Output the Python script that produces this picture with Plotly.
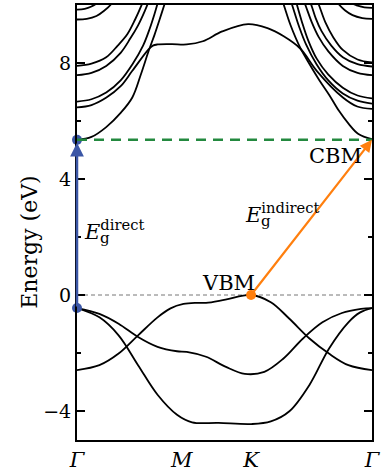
import plotly.graph_objects as go

# ---------------- data ----------------
k_ticks = [0.0, 0.355, 0.59, 1.0]
k_labels = ["Γ", "M", "K", "Γ"]

E_fermi = 0.0
E_vbm_gamma = -0.45
E_cbm = 5.35
E_vbm = 0.0
k_vbm = 0.59
k_cbm = 1.0
k_gamma = 0.0

# valence bands
vb1_k = [0, .076, .141, .207, .273, .339, .39, .48, .591, .657, .72, .788, .854, .92, .96, 1]
vb1_E = [-0.45, -0.77, -1.39, -2.42, -3.44, -4.13, -4.39, -4.41, -4.45, -4.36, -4.01, -3.1, -1.85, -0.94, -0.6, -0.45]
vb2_k = [0, .076, .141, .207, .273, .339, .372, .4375, .503, .569, .635, .70, .766, .832, .898, .963, 1]
vb2_E = [-0.45, -0.65, -0.99, -1.45, -1.79, -1.94, -1.96, -2.13, -2.47, -2.72, -2.65, -2.19, -1.5, -0.94, -0.62, -0.48, -0.45]
vb3_k = [0, .076, .141, .207, .273, .317, .361, .405, .4375, .503, .591, .657, .72, .788, .854, .92, 1]
vb3_E = [-2.59, -2.42, -2.02, -1.39, -0.77, -0.46, -0.31, -0.27, -0.27, -0.16, 0.0, -0.25, -0.82, -1.5, -2.02, -2.42, -2.59]

# conduction bands, left Γ side
cba_L_k = [0, .049, .099, .148, .1875, .217, .243, .263, .280, .299, .3125]
cba_L_E = [5.35, 5.45, 5.79, 6.28, 6.81, 7.62, 8.42, 8.98, 9.5, 10.1, 10.5]
cbc_L_k = [0, .049, .099, .148, .1875, .224, .247, .263, .28]
cbc_L_E = [6.67, 6.75, 6.98, 7.4, 7.95, 8.6, 9.2, 9.7, 10.3]
cbd_L_k = [0, .049, .099, .148, .181, .207, .230, .25]
cbd_L_E = [7.58, 7.66, 7.9, 8.35, 8.85, 9.3, 9.8, 10.3]
cbe_L_k = [0, .049, .099, .138, .171, .197, .217, .230]
cbe_L_E = [7.9, 7.98, 8.2, 8.6, 9.0, 9.5, 9.95, 10.3]
h1_L_k = [0, .033, .066, .092, .115, .132]
h1_L_E = [9.5, 9.52, 9.62, 9.8, 10.02, 10.3]
h2_L_k = [0, .026, .049, .066, .082]
h2_L_E = [9.84, 9.87, 9.95, 10.05, 10.2]

# band running through M and K
cbb_k = [0, .049, .0997, .148, .1875, .2424, .257, .273, .322, .372, .4266, .4924, .58, .6457, .7007, .7566, .8125, .9013, .95, 1]
cbb_E = [6.47, 6.55, 6.81, 7.2, 7.73, 8.47, 8.6, 8.64, 8.65, 8.64, 8.75, 9.09, 9.34, 9.2, 8.92, 8.5, 7.73, 6.81, 6.5, 6.42]

# conduction bands, right Γ side
cba_R_k = [1, .954, .921, .888, .855, .822, .789, .757, .724, .701, .6875]
cba_R_E = [5.37, 5.55, 5.9, 6.35, 6.9, 7.4, 7.95, 8.52, 9.3, 10.0, 10.4]
cbc_R_k = [1, .951, .901, .852, .8125, .776, .753, .737, .72]
cbc_R_E = [6.6, 6.7, 6.95, 7.4, 7.95, 8.65, 9.25, 9.75, 10.3]
cbc2_R_k = [1, .951, .901, .852, .8125, .783, .763, .743]
cbc2_R_E = [6.78, 6.88, 7.15, 7.6, 8.15, 8.8, 9.4, 10.1]
cbd_R_k = [1, .951, .901, .852, .819, .796, .776, .763]
cbd_R_E = [7.58, 7.66, 7.9, 8.4, 8.9, 9.4, 9.95, 10.3]
cbe_R_k = [1, .951, .901, .862, .829, .809, .796, .783]
cbe_R_E = [7.88, 7.96, 8.2, 8.6, 9.1, 9.55, 9.95, 10.3]
cbf_R_k = [1, .951, .901, .868, .842, .822, .809]
cbf_R_E = [8.02, 8.12, 8.45, 8.9, 9.4, 9.95, 10.3]
h1_R_k = [1, .967, .934, .908, .888, .868]
h1_R_E = [9.52, 9.55, 9.65, 9.82, 10.02, 10.3]
h2_R_k = [1, .974, .951, .934, .918]
h2_R_E = [9.9, 9.92, 9.98, 10.05, 10.2]

y_ticks = [-4, 0, 4, 8]
y_ticklabels = ["−4", "0", "4", "8"]
y_minor = [-2, 2, 6]
y_range = [-5, 10]

bands = [
    (vb1_k, vb1_E), (vb2_k, vb2_E), (vb3_k, vb3_E),
    (cba_L_k, cba_L_E), (cbc_L_k, cbc_L_E), (cbd_L_k, cbd_L_E), (cbe_L_k, cbe_L_E),
    (h1_L_k, h1_L_E), (h2_L_k, h2_L_E), (cbb_k, cbb_E),
    (cba_R_k, cba_R_E), (cbc_R_k, cbc_R_E), (cbc2_R_k, cbc2_R_E), (cbd_R_k, cbd_R_E),
    (cbe_R_k, cbe_R_E), (cbf_R_k, cbf_R_E), (h1_R_k, h1_R_E), (h2_R_k, h2_R_E),
]

BLUE = "#3B56A6"
ORANGE = "#FF7F0E"
GREEN = "#23893F"
FONT = "DejaVu Serif"

fig = go.Figure()

fig.add_hline(y=E_fermi, line=dict(color="#777777", width=1, dash="4px,3px"), layer="below")

for k, E in bands:
    fig.add_trace(go.Scatter(x=k, y=E, mode="lines",
                             line=dict(color="black", width=1.8, shape="spline", smoothing=1.0),
                             showlegend=False, hoverinfo="skip"))

fig.add_hline(y=E_cbm, line=dict(color=GREEN, width=2.5, dash="10px,7px"))

# direct gap arrow
fig.add_annotation(x=k_gamma, y=E_cbm, ax=k_gamma, ay=E_vbm_gamma, xref="x", yref="y",
                   axref="x", ayref="y", showarrow=True, arrowhead=2, arrowsize=1.1,
                   arrowwidth=2.5, arrowcolor=BLUE, text="", standoff=3)
# indirect gap arrow
fig.add_annotation(x=k_cbm, y=E_cbm, ax=k_vbm, ay=E_vbm, xref="x", yref="y",
                   axref="x", ayref="y", showarrow=True, arrowhead=2, arrowsize=1.1,
                   arrowwidth=2.2, arrowcolor=ORANGE, text="")

fig.add_trace(go.Scatter(x=[k_gamma, k_gamma], y=[E_vbm_gamma, E_cbm], mode="markers",
                         marker=dict(color=BLUE, size=10), cliponaxis=False,
                         showlegend=False, hoverinfo="skip"))
fig.add_trace(go.Scatter(x=[k_vbm], y=[E_vbm], mode="markers",
                         marker=dict(color=ORANGE, size=10), cliponaxis=False,
                         showlegend=False, hoverinfo="skip"))

tf = dict(family=FONT, size=21, color="black")
gf = dict(family=FONT, size=15, color="black")
fig.add_annotation(x=0.016, y=2.25, xref="x", yref="y", text="<i>E</i><sup>direct</sup>",
                   showarrow=False, xanchor="left", yanchor="middle", font=tf)
fig.add_annotation(x=0.016, y=2.25, xref="x", yref="y", text="g", xshift=16, yshift=-8,
                   showarrow=False, xanchor="left", yanchor="middle", font=gf)
fig.add_annotation(x=0.562, y=2.83, xref="x", yref="y", text="<i>E</i><sup>indirect</sup>",
                   showarrow=False, xanchor="left", yanchor="middle", font=tf)
fig.add_annotation(x=0.562, y=2.83, xref="x", yref="y", text="g", xshift=16, yshift=-8,
                   showarrow=False, xanchor="left", yanchor="middle", font=gf)
fig.add_annotation(x=0.512, y=0.4, xref="x", yref="y", text="VBM", showarrow=False,
                   xanchor="center", yanchor="middle", font=tf)
fig.add_annotation(x=0.875, y=4.8, xref="x", yref="y", text="CBM", showarrow=False,
                   xanchor="center", yanchor="middle", font=tf)
fig.add_annotation(x=-0.164, y=0.455, xref="paper", yref="paper", text="Energy (eV)",
                   textangle=-90, showarrow=False, xanchor="center", yanchor="middle",
                   font=dict(family=FONT, size=22, color="black"))

fig.update_layout(
    width=382, height=473,
    margin=dict(l=77, r=1, t=5, b=28),
    paper_bgcolor="white", plot_bgcolor="white",
    showlegend=False,
    xaxis=dict(range=[0, 1], tickvals=k_ticks, ticktext=["<i>%s</i>" % s for s in k_labels],
               ticks="", showline=True, linecolor="black", linewidth=2, mirror=True,
               showgrid=False, zeroline=False, ticklabeloverflow="allow",
               tickfont=dict(family=FONT, size=21, color="black")),
    yaxis=dict(range=y_range, tickvals=y_ticks, ticktext=y_ticklabels, ticks="inside",
               ticklen=8, tickwidth=1.5, tickcolor="black", showline=True, linecolor="black",
               linewidth=2, mirror="ticks", showgrid=False, zeroline=False,
               tickfont=dict(family=FONT, size=19, color="black"),
               minor=dict(tickvals=y_minor, ticks="inside", ticklen=4, tickwidth=1.5,
                          tickcolor="black", showgrid=False)),
)

fig.write_html("out.html")
